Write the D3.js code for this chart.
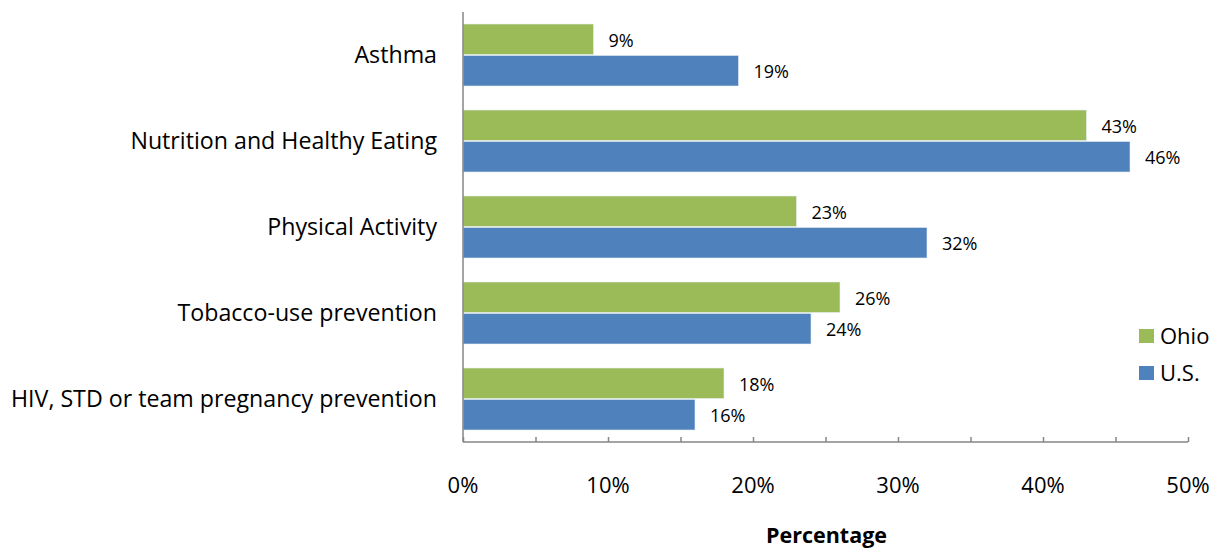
<!DOCTYPE html>
<html>
<head>
<meta charset="utf-8">
<script src="https://cdn.jsdelivr.net/npm/d3@7"></script>
<style>
  html, body { margin: 0; padding: 0; background: #fff; }
  svg text { font-family: "Open Sans", Lato, sans-serif; fill: #000; }
</style>
</head>
<body>
<svg id="chart" width="1222" height="548"></svg>
<script>
const categories = ["Asthma", "Nutrition and Healthy Eating", "Physical Activity", "Tobacco-use prevention", "HIV, STD or team pregnancy prevention"];
const seriesNames = ["Ohio", "U.S."];
const ohioValues = [9, 43, 23, 26, 18];
const usValues = [19, 46, 32, 24, 16];
const tickValues = [0, 10, 20, 30, 40, 50];
const minorTicks = [0, 5, 10, 15, 20, 25, 30, 35, 40, 45, 50];
const colors = ["#9BBB59", "#4F81BD"];
const axisTitle = "Percentage";

const svg = d3.select("#chart");
const plotLeft = 463, plotRight = 1188, plotTop = 12, plotBottom = 442;

const x = d3.scaleLinear().domain([0, 50]).range([plotLeft, plotRight]);
const y0 = d3.scaleBand().domain(categories).range([plotTop, plotBottom]).paddingInner(24/86).paddingOuter(12/86);
const y1 = d3.scaleBand().domain(seriesNames).range([0, y0.bandwidth()]).paddingInner(0.03);

const data = categories.map((c, i) => ({ cat: c, vals: [ {s: "Ohio", v: ohioValues[i]}, {s: "U.S.", v: usValues[i]} ] }));

const groups = svg.append("g").selectAll("g").data(data).join("g")
  .attr("transform", d => `translate(0,${y0(d.cat)})`);

groups.selectAll("rect").data(d => d.vals).join("rect")
  .attr("x", x(0))
  .attr("y", d => y1(d.s))
  .attr("width", d => x(d.v) - x(0))
  .attr("height", y1.bandwidth())
  .attr("fill", (d, i) => colors[i])
  .attr("stroke", "#e8eef5").attr("stroke-width", 0.6);

groups.selectAll("text.val").data(d => d.vals).join("text")
  .attr("class", "val")
  .attr("x", d => x(d.v) + 15)
  .attr("y", d => y1(d.s) + y1.bandwidth() / 2 + 7.5)
  .style("font-size", "18px")
  .text(d => d.v + "%");

// Y axis line
svg.append("line").attr("x1", plotLeft).attr("x2", plotLeft).attr("y1", plotTop).attr("y2", plotBottom)
  .attr("stroke", "#868686").attr("stroke-width", 1.5);

// category labels
svg.append("g").selectAll("text").data(categories).join("text")
  .attr("x", 437)
  .attr("y", d => y0(d) + y0.bandwidth() / 2 + 8)
  .attr("text-anchor", "end")
  .style("font-size", "23.2px")
  .text(d => d);

// X axis
const xAxis = d3.axisBottom(x).tickValues(minorTicks).tickSize(-5).tickFormat("");
const gx = svg.append("g").attr("transform", `translate(0,${plotBottom})`).call(xAxis);
gx.select(".domain").attr("stroke", "#868686").attr("stroke-width", 1.5).attr("d", `M${plotLeft},0H${plotRight}`);
gx.selectAll(".tick line").attr("stroke", "#868686").attr("stroke-width", 1.5);

svg.append("g").selectAll("text").data(tickValues).join("text")
  .attr("x", d => x(d))
  .attr("y", 493)
  .attr("text-anchor", "middle")
  .style("font-size", "22px")
  .text(d => d + "%");

svg.append("text")
  .attr("x", (plotLeft + plotRight) / 2 + 1)
  .attr("y", 543)
  .attr("text-anchor", "middle")
  .style("font-size", "21.5px")
  .style("font-weight", "bold")
  .text(axisTitle);

// legend
const legend = svg.append("g").selectAll("g").data(seriesNames).join("g")
  .attr("transform", (d, i) => `translate(1139,${329 + i * 37})`);
legend.append("rect").attr("width", 15).attr("height", 14).attr("fill", (d, i) => colors[i]);
legend.append("text").attr("x", 21).attr("y", 15).style("font-size", "22px").text(d => d);
</script>
</body>
</html>
